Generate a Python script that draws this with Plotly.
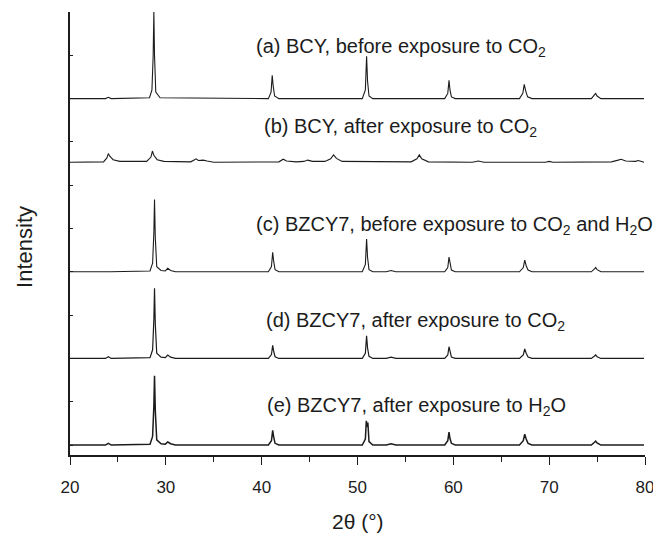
import plotly.graph_objects as go

# ---------------- data (2theta in degrees, intensity relative to each pattern's baseline) ----------------
x_a = [20.0, 23.7, 24.0, 24.3, 28.3, 28.55, 28.68, 28.75, 28.82, 28.95, 29.4,
       40.7, 40.98, 41.1, 41.2, 41.35, 41.8,
       50.5, 50.82, 50.95, 51.05, 51.2, 51.6,
       59.1, 59.42, 59.55, 59.65, 59.8, 60.2,
       66.9, 67.25, 67.4, 67.55, 67.75, 68.2,
       74.4, 74.7, 74.85, 75.0, 75.4, 79.9]
y_a = [0.0, 0.0, 0.03, 0.0, 0.02, 0.2, 1.0, 2.0, 1.0, 0.15, 0.02,
       0.0, 0.15, 0.54, 0.3, 0.06, 0.0,
       0.0, 0.2, 0.98, 0.4, 0.06, 0.0,
       0.0, 0.12, 0.42, 0.2, 0.04, 0.0,
       0.0, 0.12, 0.33, 0.18, 0.04, 0.0,
       0.0, 0.08, 0.12, 0.06, 0.0, 0.0]

x_b = [20.0, 23.5, 23.85, 24.0, 24.15, 24.5, 25.2,
       28.0, 28.45, 28.6, 28.75, 29.1, 29.8,
       32.6, 33.0, 33.15, 33.4, 33.7, 33.9, 34.3, 35.0,
       41.8, 42.1, 42.25, 42.6, 43.1, 43.3, 43.6, 44.4, 44.8, 45.3,
       46.6, 47.2, 47.5, 47.8, 48.4,
       55.6, 56.2, 56.45, 56.7, 57.4,
       62.0, 62.6, 63.2, 69.6, 70.0, 70.4,
       76.5, 77.2, 77.5, 78.0, 79.0, 79.3, 79.9]
y_b = [0.0, 0.01, 0.1, 0.2, 0.14, 0.06, 0.02,
       0.02, 0.12, 0.26, 0.16, 0.06, 0.02,
       0.01, 0.06, 0.08, 0.04, 0.05, 0.05, 0.03, 0.0,
       0.01, 0.05, 0.07, 0.03, 0.02, 0.03, 0.01, 0.02, 0.05, 0.02,
       0.02, 0.08, 0.17, 0.09, 0.02,
       0.01, 0.08, 0.17, 0.08, 0.01,
       0.0, 0.03, 0.0, 0.0, 0.02, 0.0,
       0.01, 0.05, 0.07, 0.03, 0.02, 0.04, 0.0]

x_c = [20.0, 23.8, 24.0, 24.2, 28.35, 28.62, 28.75, 28.82, 28.9, 29.05, 29.5,
       29.95, 30.2, 30.5, 31.0,
       40.7, 41.02, 41.15, 41.25, 41.4, 41.8,
       50.5, 50.82, 50.95, 51.05, 51.2, 51.6,
       53.0, 53.5, 54.0,
       59.1, 59.42, 59.55, 59.65, 59.8, 60.2,
       66.9, 67.3, 67.45, 67.6, 67.8, 68.2,
       74.4, 74.7, 74.85, 75.0, 75.4, 79.9]
y_c = [0.0, 0.0, 0.01, 0.0, 0.02, 0.2, 0.9, 1.67, 0.8, 0.12, 0.03,
       0.02, 0.08, 0.03, 0.0,
       0.0, 0.12, 0.45, 0.25, 0.05, 0.0,
       0.0, 0.17, 0.76, 0.33, 0.05, 0.0,
       0.0, 0.03, 0.0,
       0.0, 0.1, 0.34, 0.17, 0.04, 0.0,
       0.0, 0.1, 0.27, 0.14, 0.04, 0.0,
       0.0, 0.06, 0.1, 0.05, 0.0, 0.0]

x_d = [20.0, 23.7, 24.0, 24.3, 28.35, 28.62, 28.75, 28.82, 28.9, 29.05, 29.5,
       29.95, 30.2, 30.5, 31.0,
       40.7, 41.02, 41.15, 41.25, 41.4, 41.8,
       50.5, 50.82, 50.95, 51.05, 51.2, 51.6,
       53.0, 53.5, 54.0,
       59.1, 59.42, 59.55, 59.65, 59.8, 60.2,
       66.9, 67.3, 67.45, 67.6, 67.8, 68.2,
       74.4, 74.7, 74.85, 75.0, 75.4, 79.9]
y_d = [0.0, 0.0, 0.04, 0.0, 0.02, 0.2, 0.9, 1.62, 0.8, 0.12, 0.03,
       0.02, 0.08, 0.03, 0.0,
       0.0, 0.09, 0.3, 0.17, 0.04, 0.0,
       0.0, 0.12, 0.52, 0.24, 0.05, 0.0,
       0.0, 0.03, 0.0,
       0.0, 0.08, 0.27, 0.14, 0.03, 0.0,
       0.0, 0.08, 0.22, 0.12, 0.03, 0.0,
       0.0, 0.05, 0.08, 0.04, 0.0, 0.0]

x_e = [20.0, 23.7, 24.0, 24.3, 28.35, 28.62, 28.75, 28.82, 28.9, 29.05, 29.5,
       29.95, 30.2, 30.5, 31.0,
       40.7, 41.02, 41.15, 41.25, 41.4, 41.8,
       50.5, 50.82, 50.92, 51.0, 51.08, 51.2, 51.6,
       53.0, 53.5, 54.0,
       59.1, 59.42, 59.55, 59.65, 59.8, 60.2,
       66.9, 67.3, 67.45, 67.6, 67.8, 68.2,
       74.4, 74.7, 74.85, 75.0, 75.4, 79.9]
y_e = [0.0, 0.0, 0.04, 0.0, 0.02, 0.2, 0.9, 1.6, 0.8, 0.12, 0.03,
       0.02, 0.07, 0.03, 0.0,
       0.0, 0.1, 0.34, 0.19, 0.04, 0.0,
       0.0, 0.14, 0.56, 0.42, 0.52, 0.08, 0.0,
       0.0, 0.03, 0.0,
       0.0, 0.1, 0.3, 0.15, 0.04, 0.0,
       0.0, 0.1, 0.25, 0.14, 0.04, 0.0,
       0.0, 0.06, 0.09, 0.05, 0.0, 0.0]

offsets = [8.0, 6.53, 4.0, 2.0, 0.0]
labels = ["(a) BCY, before exposure to CO<sub>2</sub>",
          "(b) BCY, after exposure to CO<sub>2</sub>",
          "(c) BZCY7, before exposure to CO<sub>2</sub> and H<sub>2</sub>O",
          "(d) BZCY7, after exposure to CO<sub>2</sub>",
          "(e) BZCY7, after exposure to H<sub>2</sub>O"]
label_x = [39.2, 40.0, 39.2, 40.25, 40.35]
label_y = [9.19, 7.34, 5.07, 2.86, 0.9]
x_ticks = [20, 30, 40, 50, 60, 70, 80]

series = [(x_a, y_a), (x_b, y_b), (x_c, y_c), (x_d, y_d), (x_e, y_e)]
widths = [1.1, 1.1, 1.1, 1.2, 1.5]

FONT = "Liberation Sans, Arial, sans-serif"
fig = go.Figure()
for (xs, ys), off, w in zip(series, offsets, widths):
    fig.add_trace(go.Scatter(x=xs, y=[v + off for v in ys], mode="lines",
                             line=dict(color="#1c1c1c", width=w),
                             showlegend=False, hoverinfo="skip"))

for txt, lx, ly in zip(labels, label_x, label_y):
    fig.add_annotation(x=lx, y=ly, xref="x", yref="y", text=txt, showarrow=False,
                       xanchor="left", yanchor="middle",
                       font=dict(family=FONT, size=20, color="#1c1c1c"))

fig.add_annotation(x=0.5, y=-0.151, xref="paper", yref="paper", text="2θ (°)",
                   showarrow=False, xanchor="center", yanchor="middle",
                   font=dict(family=FONT, size=21, color="#1c1c1c"))
fig.add_annotation(x=-0.078, y=0.47, xref="paper", yref="paper", text="Intensity",
                   showarrow=False, xanchor="center", yanchor="middle", textangle=-90,
                   font=dict(family=FONT, size=22, color="#1c1c1c"))

fig.update_layout(
    width=653, height=535,
    margin=dict(l=70, r=8, t=12, b=80),
    paper_bgcolor="white", plot_bgcolor="white",
    font=dict(family=FONT, color="#1c1c1c"),
)
fig.update_xaxes(range=[20, 80], tickvals=x_ticks, ticks="outside", ticklen=8, tickwidth=1.2,
                 tickcolor="#1c1c1c", showline=True, linecolor="#1c1c1c", linewidth=1.5,
                 showgrid=False, zeroline=False, tickfont=dict(size=17, family=FONT),
                 ticklabelstandoff=8, ticklabeloverflow="allow", automargin=False,
                 minor=dict(dtick=5, tick0=20, ticks="outside", ticklen=5, tickwidth=1.2,
                            tickcolor="#1c1c1c", showgrid=False))
fig.update_yaxes(range=[-0.23, 10.0], tick0=0, dtick=1, ticks="inside", ticklen=3,
                 tickwidth=1, tickcolor="#1c1c1c", showticklabels=False,
                 showline=True, linecolor="#1c1c1c", linewidth=1.5,
                 showgrid=False, zeroline=False, automargin=False)

fig.write_html("out.html")
